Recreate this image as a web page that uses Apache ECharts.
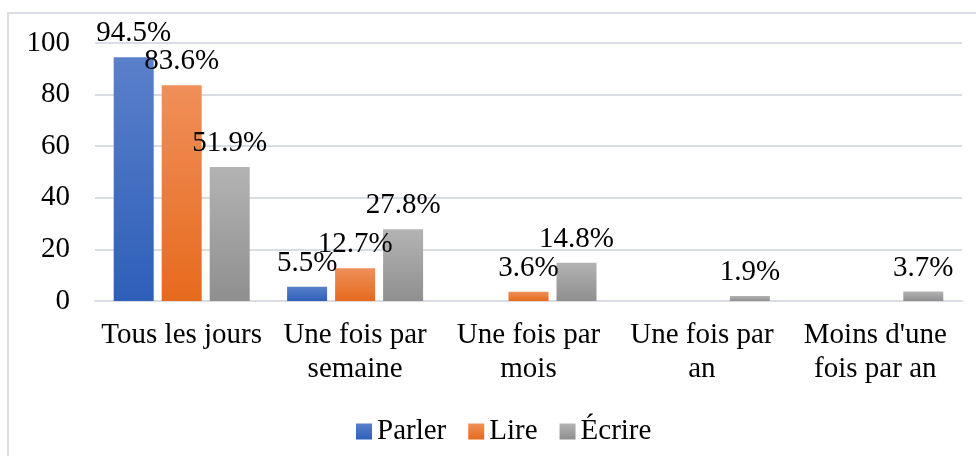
<!DOCTYPE html>
<html>
<head>
<meta charset="utf-8">
<style>
    html, body { margin: 0; padding: 0; background: #fff; }
    #chart { width: 976px; height: 456px; }
</style>
</head>
<body>
<div id="chart"></div>
<script src="https://cdn.jsdelivr.net/npm/echarts@6/dist/echarts.min.js"></script>
<script type="text/javascript">
    // données
    var categories = ['Tous les jours', 'Une fois par\nsemaine', 'Une fois par\nmois', 'Une fois par\nan', "Moins d'une\nfois par an"];
    var seriesNames = ['Parler', 'Lire', 'Écrire'];
    var parler = [94.5, 5.5, 0, 0, 0];
    var lire = [83.6, 12.7, 3.6, 0, 0];
    var ecrire = [51.9, 27.8, 14.8, 1.9, 3.7];
    var yTicks = [0, 20, 40, 60, 80, 100];

    var font = "'Liberation Serif', 'Times New Roman', serif";

    function grad(top, bottom) {
        return new echarts.graphic.LinearGradient(0, 0, 0, 1, [
            {offset: 0, color: top},
            {offset: 1, color: bottom}
        ]);
    }

    function makeSeries(name, data, top, bottom) {
        return {
            name: name,
            type: 'bar',
            data: data,
            barWidth: 40,
            barGap: '20%',
            itemStyle: {color: grad(top, bottom)},
            label: {
                show: true,
                position: 'top',
                distance: 9,
                fontFamily: font,
                fontSize: 29,
                color: '#000',
                formatter: function (p) {
                    return p.value ? p.value.toFixed(1) + '%' : '';
                }
            }
        };
    }

    var myChart = echarts.init(document.getElementById('chart'));

    var option = {
        animation: false,
        textStyle: {fontFamily: font},
        graphic: [{
            type: 'rect',
            shape: {x: 8, y: 13, width: 1000, height: 500},
            style: {fill: 'none', stroke: '#dadee4', lineWidth: 2},
            silent: true
        }],
        grid: {left: 95, right: 14, top: 43, bottom: 155},
        legend: {
            top: 412,
            left: 351,
            itemWidth: 16,
            itemHeight: 16,
            itemGap: 22,
            icon: 'rect',
            data: seriesNames,
            textStyle: {fontFamily: font, fontSize: 29, color: '#000'}
        },
        xAxis: {
            type: 'category',
            data: categories,
            axisLine: {lineStyle: {color: '#d9dde3', width: 2}},
            axisTick: {show: false},
            axisLabel: {
                fontFamily: font,
                fontSize: 29,
                color: '#000',
                lineHeight: 34,
                margin: 17,
                interval: 0
            }
        },
        yAxis: {
            type: 'value',
            min: yTicks[0],
            max: yTicks[yTicks.length - 1],
            interval: 20,
            axisLine: {show: false},
            axisTick: {show: false},
            splitLine: {lineStyle: {color: '#d9dde3', width: 2}},
            axisLabel: {
                fontFamily: font,
                fontSize: 29,
                color: '#000',
                margin: 25
            }
        },
        series: [
            makeSeries(seriesNames[0], parler, '#5a80ca', '#2e5fb9'),
            makeSeries(seriesNames[1], lire, '#f08f5a', '#e66a1c'),
            makeSeries(seriesNames[2], ecrire, '#b3b3b3', '#8f8f8f')
        ]
    };
    myChart.setOption(option);
</script>
</body>
</html>
